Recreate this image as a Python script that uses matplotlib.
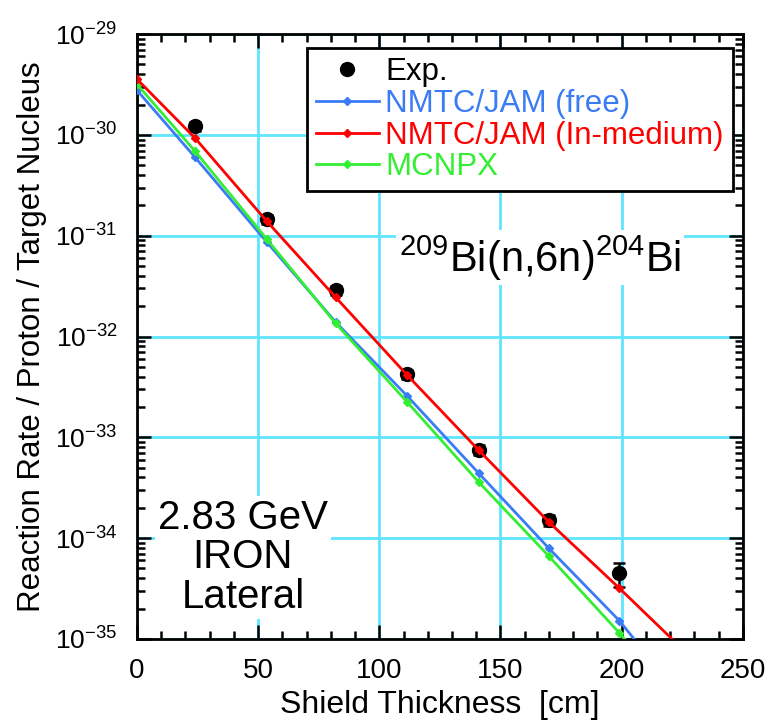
import numpy as np
import matplotlib
matplotlib.use("Agg")
import matplotlib.pyplot as plt
from matplotlib.lines import Line2D
from matplotlib.ticker import FixedLocator, MultipleLocator, NullFormatter, LogFormatterSciNotation

plt.rcParams['font.family'] = ['Liberation Sans', 'DejaVu Sans']
plt.rcParams['mathtext.fontset'] = 'custom'
plt.rcParams['mathtext.rm'] = 'Liberation Sans'
plt.rcParams['mathtext.it'] = 'Liberation Sans:italic'
plt.rcParams['mathtext.bf'] = 'Liberation Sans:bold'

# measured reaction rates (209Bi(n,6n)204Bi), lateral positions in the iron shield
exp_x = [24, 53.5, 82, 111.5, 141, 170, 199]
exp_val = [1.22e-30, 1.46e-31, 2.9e-32, 4.25e-33, 7.5e-34, 1.5e-34, 4.5e-35]
exp_err = [0.12e-30, 0.14e-31, 0.3e-32, 0.45e-33, 0.8e-34, 0.18e-34, 1.2e-35]

# calculations (last point lies below the plotted range)
calc_x = [0, 24, 53.5, 82, 111.5, 141, 170, 199, 228.5]
jam_free = [2.78e-30, 6.0e-31, 8.7e-32, 1.39e-32, 2.57e-33, 4.41e-34, 7.9e-35, 1.52e-35, 2.0e-36]
jam_inmed = [3.58e-30, 9.3e-31, 1.40e-31, 2.45e-32, 4.14e-33, 7.46e-34, 1.44e-34, 3.19e-35, 6.6e-36]
mcnpx = [3.19e-30, 6.9e-31, 9.3e-32, 1.35e-32, 2.24e-33, 3.6e-34, 6.6e-35, 1.15e-35, 1.7e-36]

decades = [1e-35, 1e-34, 1e-33, 1e-32, 1e-31, 1e-30, 1e-29]

c_free = '#3a7cf5'
c_inmed = '#ff0000'
c_mcnpx = '#33ee33'

fig = plt.figure(figsize=(7.69, 7.26), dpi=100)
ax = fig.add_axes([0.178, 0.120, 0.788, 0.833])

ax.errorbar(exp_x, exp_val, yerr=exp_err, fmt='o', color='black',
            markersize=10, capsize=4, elinewidth=1.8, capthick=1.8, zorder=3)
l_free, = ax.plot(calc_x, jam_free, '-D', color=c_free, lw=2, markersize=4,
                  label='NMTC/JAM (free)', zorder=4)
l_inmed, = ax.plot(calc_x, jam_inmed, '-D', color=c_inmed, lw=2, markersize=4.5,
                   label='NMTC/JAM (In-medium)', zorder=6)
l_mcnpx, = ax.plot(calc_x, mcnpx, '-D', color=c_mcnpx, lw=2, markersize=4,
                   label='MCNPX', zorder=5)
exp_handle = Line2D([], [], ls='none', marker='o', color='black', markersize=10,
                    label='Exp.')

ax.set_yscale('log')
ax.set_xlim(0, 250)
ax.set_ylim(decades[0], decades[-1])

ax.xaxis.set_major_locator(MultipleLocator(50))
ax.xaxis.set_minor_locator(MultipleLocator(10))
ax.yaxis.set_major_locator(FixedLocator(decades))
ax.yaxis.set_major_formatter(LogFormatterSciNotation())
minor_y = [m * d for d in decades[:-1] for m in range(2, 10)]
ax.yaxis.set_minor_locator(FixedLocator(minor_y))
ax.yaxis.set_minor_formatter(NullFormatter())

ax.tick_params(which='both', direction='in', top=True, right=True,
               width=1.8, color='black')
ax.tick_params(which='major', length=10)
ax.tick_params(which='minor', length=6)
ax.tick_params(axis='x', which='major', labelsize=20, pad=14)
ax.tick_params(axis='y', which='major', labelsize=19, pad=14)

for s in ax.spines.values():
    s.set_linewidth(2)
    s.set_color('black')

ax.grid(True, which='major', color='#5ee6ff', lw=2, zorder=0)
ax.set_axisbelow(True)

ax.set_xlabel('Shield Thickness  [cm]', fontsize=23, labelpad=4)
ax.set_ylabel('Reaction Rate / Proton / Target Nucleus', fontsize=22.5, labelpad=6)

leg = ax.legend(handles=[exp_handle, l_free, l_inmed, l_mcnpx],
                loc='upper left', bbox_to_anchor=(0.2805, 0.977), fontsize=22.5,
                fancybox=False, framealpha=1, edgecolor='black',
                handlelength=2.0, handletextpad=0.2, labelspacing=0.05,
                borderpad=0.3, borderaxespad=0,
                labelcolor=['black', c_free, c_inmed, c_mcnpx])
leg.get_frame().set_linewidth(2)
leg.set_zorder(10)

ax.text(0.665, 0.63, r'$\mathregular{^{209}Bi(n{,}6n)^{204}Bi}$', transform=ax.transAxes,
        fontsize=30, ha='center', va='center', zorder=8,
        bbox=dict(facecolor='white', edgecolor='none', pad=2))
ax.text(0.175, 0.135, '2.83 GeV\nIRON\nLateral', transform=ax.transAxes,
        fontsize=29, ha='center', va='center', linespacing=1.05, zorder=8,
        bbox=dict(facecolor='white', edgecolor='none', pad=2))

fig.savefig('out.png', dpi=100)
